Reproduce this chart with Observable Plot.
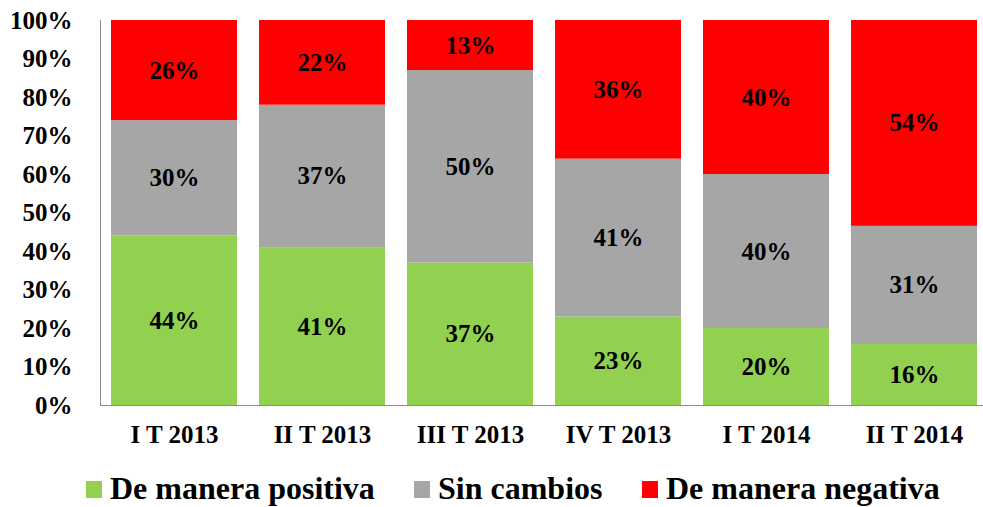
<!DOCTYPE html>
<html>
<head>
<meta charset="utf-8">
<script src="https://cdn.jsdelivr.net/npm/d3@7"></script>
<script src="https://cdn.jsdelivr.net/npm/@observablehq/plot@0.6"></script>
<style>
  body { margin: 0; background: #fff; font-family: "Liberation Serif", "Times New Roman", serif; overflow: hidden; }
  #legend { position: relative; height: 42px; font-family: "Liberation Serif", "Times New Roman", serif; font-weight: bold; font-size: 32px; line-height: 32px; color: #000; }
  .item { position: absolute; top: 7px; display: flex; align-items: center; white-space: nowrap; }
  .sw { display: inline-block; width: 16px; height: 17px; margin-right: 8px; margin-top: 2px; }
</style>
</head>
<body>
<div id="chart"></div>
<div id="legend"></div>
<script>
const categories = ["I T 2013", "II T 2013", "III T 2013", "IV T 2013", "I T 2014", "II T 2014"];
const seriesNames = ["De manera positiva", "Sin cambios", "De manera negativa"];
const positiva = [44, 41, 37, 23, 20, 16];
const sinCambios = [30, 37, 50, 41, 40, 31];
const negativa = [26, 22, 13, 36, 40, 54];
const colors = ["#92D050", "#A6A6A6", "#FF0000"];
const yTicks = [0, 0.1, 0.2, 0.3, 0.4, 0.5, 0.6, 0.7, 0.8, 0.9, 1];
const legendLeft = [86, 414, 642];

const seriesValues = [positiva, sinCambios, negativa];
const data = [];
categories.forEach((c, i) => {
  seriesNames.forEach((s, j) => data.push({cat: c, series: s, value: seriesValues[j][i]}));
});

const font = '"Liberation Serif", "Times New Roman", serif';
const chart = Plot.plot({
  width: 983,
  height: 465,
  marginLeft: 100,
  marginRight: 0,
  marginTop: 20,
  marginBottom: 60,
  style: {fontFamily: font, fontSize: "25px", fontWeight: "bold", color: "#000", background: "#fff"},
  x: {domain: categories, range: [100, 988], paddingInner: 0.15, paddingOuter: 0.075, label: null},
  y: {domain: [0, 1], label: null},
  color: {domain: seriesNames, range: colors},
  marks: [
    Plot.barY(data, Plot.stackY({offset: "normalize", x: "cat", y: "value", fill: "series", z: "series"})),
    Plot.text(data, Plot.stackY({offset: "normalize", x: "cat", y: "value", z: "series", text: d => d.value + "%", fontSize: 25, fontWeight: "bold", fill: "#000"})),
    Plot.frame({anchor: "left", stroke: "#8c8c8c"}),
    Plot.frame({anchor: "bottom", stroke: "#8c8c8c"}),
    Plot.axisY({ticks: yTicks, tickFormat: d3.format(".0%"), tickSize: 0, tickPadding: 28, fontSize: 25, label: null}),
    Plot.axisX({tickSize: 0, tickPadding: 20, fontSize: 25, label: null})
  ]
});
document.getElementById("chart").appendChild(chart);

const legend = document.getElementById("legend");
seriesNames.forEach((s, i) => {
  const item = document.createElement("div");
  item.className = "item";
  item.style.left = legendLeft[i] + "px";
  const sw = document.createElement("span");
  sw.className = "sw";
  sw.style.background = colors[i];
  const t = document.createElement("span");
  t.textContent = s;
  item.appendChild(sw);
  item.appendChild(t);
  legend.appendChild(item);
});
</script>
</body>
</html>
